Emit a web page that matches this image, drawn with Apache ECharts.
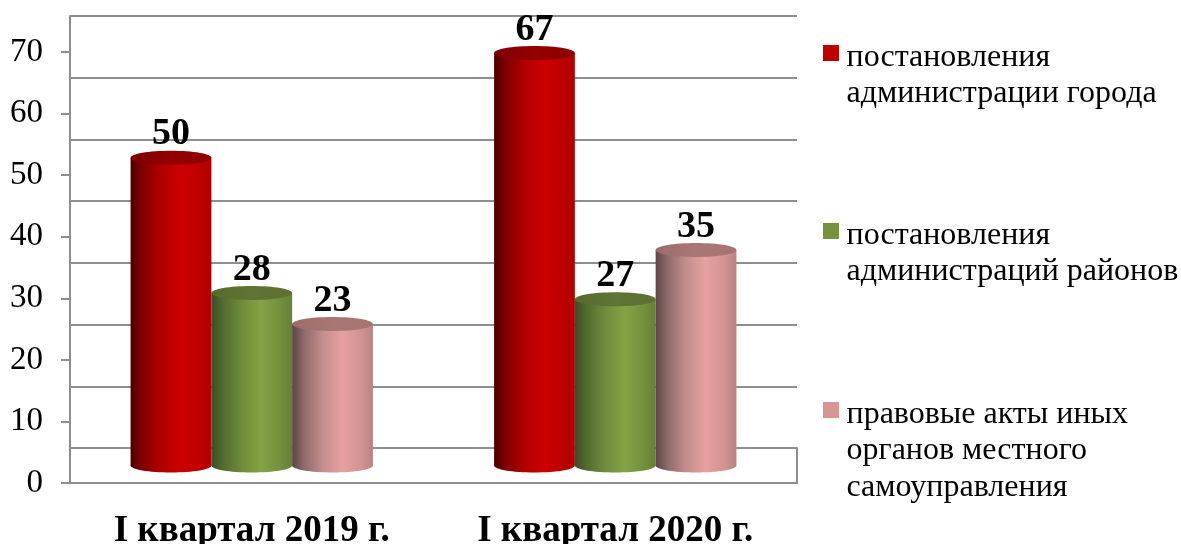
<!DOCTYPE html>
<html>
<head>
<meta charset="utf-8">
<script src="https://cdn.jsdelivr.net/npm/echarts@6/dist/echarts.min.js"></script>
<style>
  html, body { margin: 0; padding: 0; background: #fff; }
  #my-chart { width: 1181px; height: 544px; }
</style>
</head>
<body>
<div id="my-chart"></div>
<script>
var categories = ["I квартал 2019 г.", "I квартал 2020 г."];
var seriesNames = [
  "постановления\nадминистрации города",
  "постановления\nадминистраций районов",
  "правовые акты иных\nорганов местного\nсамоуправления"
];
var cityValues = [50, 67];
var districtValues = [28, 27];
var otherValues = [23, 35];
var valueTicks = [0, 10, 20, 30, 40, 50, 60, 70];

var FONT = '"Liberation Serif", serif';
var AXIS_COLOR = "#8e8e8e";

function sideGradient(stops) {
  return new echarts.graphic.LinearGradient(0, 0, 1, 0, stops.map(function (s) {
    return { offset: s[0], color: s[1] };
  }));
}

var cylinders = [
  {
    side: [[0, "#4a0000"], [0.12, "#7a0000"], [0.35, "#ad0000"], [0.62, "#cd0000"], [0.85, "#bd0000"], [1, "#b00000"]],
    top: [[0, "#7c0000"], [0.5, "#950000"], [1, "#8c0000"]]
  },
  {
    side: [[0, "#3d4c27"], [0.15, "#546b30"], [0.38, "#6f8d3b"], [0.62, "#83a346"], [0.85, "#73903d"], [1, "#658036"]],
    top: [[0, "#566a2e"], [0.5, "#5f7534"], [1, "#5c7032"]]
  },
  {
    side: [[0, "#5c4545"], [0.15, "#8f6b6b"], [0.38, "#c48e8e"], [0.62, "#e6a1a1"], [0.85, "#d39393"], [1, "#b88383"]],
    top: [[0, "#9a6d6b"], [0.5, "#a97775"], [1, "#a67371"]]
  }
];

// cylinders are drawn by hand, echarts has no 3d bar without the gl extension
function cylinderSeries(index, values) {
  return {
    type: "custom",
    name: seriesNames[index],
    xAxisIndex: 2,
    yAxisIndex: 2,
    z: 5,
    data: values.map(function (v, i) { return [i, v]; }),
    renderItem: function (params, api) {
      var band = api.size([1, 0])[0];
      var barWidth = band / 4.5;
      var ry = 7;
      var top = api.coord([api.value(0), api.value(1)]);
      var base = api.coord([api.value(0), 0]);
      var cx = top[0] + (index - 1) * barWidth;
      var rx = barWidth / 2;
      var side = sideGradient(cylinders[index].side);
      return {
        type: "group",
        children: [
          { type: "ellipse", shape: { cx: cx, cy: base[1], rx: rx, ry: ry }, style: { fill: side } },
          { type: "rect", shape: { x: cx - rx, y: top[1], width: barWidth, height: base[1] - top[1] }, style: { fill: side } },
          { type: "ellipse", shape: { cx: cx, cy: top[1], rx: rx, ry: ry }, style: { fill: sideGradient(cylinders[index].top) } },
          {
            type: "text",
            style: {
              x: cx,
              y: top[1] - 23,
              text: String(api.value(1)),
              align: "center",
              verticalAlign: "middle",
              fill: "#000",
              font: "bold 38px " + FONT
            }
          }
        ]
      };
    }
  };
}

function legendGraphic() {
  var tops = [55, 233, 412];
  var items = [];
  seriesNames.forEach(function (name, i) {
    items.push({
      type: "rect",
      shape: { x: 823, y: tops[i] - 10, width: 16, height: 16 },
      style: { fill: ["#c00000", "#76923c", "#d99594"][i] }
    });
    items.push({
      type: "text",
      style: {
        x: 846.5,
        y: tops[i] - 16,
        text: name,
        fill: "#000",
        font: "32px " + FONT,
        lineHeight: 36.5
      }
    });
  });
  return items;
}

var chart = echarts.init(document.getElementById("my-chart"));
chart.setOption({
  animation: false,
  // 0 back wall, 1 front plane with the labels, 2 plane of the bars, 3 floor
  grid: [
    { left: 70, right: 384, top: 16, bottom: 96, outerBoundsMode: "none" },
    { left: 70, right: 384, top: 52, bottom: 61, outerBoundsMode: "none" },
    { left: 70, right: 384, top: 34.5, bottom: 78.5, outerBoundsMode: "none" },
    { left: 70, right: 384, top: 448, bottom: 61, outerBoundsMode: "none" }
  ],
  xAxis: [
    { gridIndex: 0, type: "category", data: categories, show: false },
    {
      gridIndex: 1,
      type: "category",
      data: categories,
      axisLine: { lineStyle: { color: AXIS_COLOR, width: 2 } },
      axisTick: { length: 10, lineStyle: { color: AXIS_COLOR, width: 2 } },
      axisLabel: { color: "#000", fontFamily: FONT, fontWeight: "bold", fontSize: 37, margin: 30, interval: 0 }
    },
    { gridIndex: 2, type: "category", data: categories, show: false },
    { gridIndex: 3, type: "category", data: categories, show: false }
  ],
  yAxis: [
    {
      gridIndex: 0,
      type: "value",
      min: 0,
      max: 70,
      interval: 10,
      axisLine: { show: true, lineStyle: { color: AXIS_COLOR, width: 2 } },
      axisTick: { show: false },
      axisLabel: { show: false },
      splitLine: { show: true, lineStyle: { color: AXIS_COLOR, width: 2 } }
    },
    {
      gridIndex: 1,
      type: "value",
      min: valueTicks[0],
      max: valueTicks[valueTicks.length - 1],
      interval: 10,
      axisLine: { show: true, lineStyle: { color: AXIS_COLOR, width: 2 } },
      axisTick: { show: true, length: 9, lineStyle: { color: AXIS_COLOR, width: 2 } },
      axisLabel: { color: "#000", fontFamily: FONT, fontSize: 33, margin: 27, padding: [9, 0, 0, 0] },
      splitLine: { show: false }
    },
    { gridIndex: 2, type: "value", min: 0, max: 70, interval: 10, show: false },
    {
      gridIndex: 3,
      type: "value",
      position: "right",
      min: 0,
      max: 1,
      interval: 1,
      axisLine: { show: true, lineStyle: { color: AXIS_COLOR, width: 2 } },
      axisTick: { show: false },
      axisLabel: { show: false },
      splitLine: { show: false }
    }
  ],
  series: [
    cylinderSeries(0, cityValues),
    cylinderSeries(1, districtValues),
    cylinderSeries(2, otherValues)
  ],
  graphic: legendGraphic()
});
</script>
</body>
</html>
